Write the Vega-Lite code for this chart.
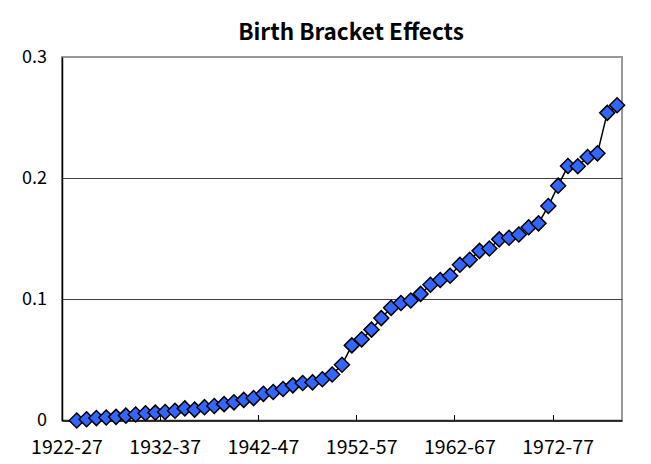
{
  "$schema": "https://vega.github.io/schema/vega-lite/v6.json",
  "width": 560,
  "height": 363.5,
  "autosize": {"type": "none"},
  "padding": {"left": 62, "top": 57, "right": 29, "bottom": 43.5},
  "background": "white",
  "title": {
    "text": "Birth Bracket Effects",
    "font": "Noto Sans CJK JP",
    "fontSize": 22.5,
    "fontWeight": "bold",
    "color": "black",
    "anchor": "middle",
    "frame": "group",
    "dx": 9,
    "offset": 4
  },
  "config": {
    "view": {"stroke": "#999999", "strokeWidth": 2},
    "axis": {"labelFont": "Noto Sans CJK JP", "labelFontSize": 18, "labelColor": "black"}
  },
  "data": {
    "values": [
      {"bracket": "1923-28", "effect": 0.000},
      {"bracket": "1924-29", "effect": 0.001},
      {"bracket": "1925-30", "effect": 0.002},
      {"bracket": "1926-31", "effect": 0.0025},
      {"bracket": "1927-32", "effect": 0.003},
      {"bracket": "1928-33", "effect": 0.004},
      {"bracket": "1929-34", "effect": 0.005},
      {"bracket": "1930-35", "effect": 0.006},
      {"bracket": "1931-36", "effect": 0.0065},
      {"bracket": "1932-37", "effect": 0.007},
      {"bracket": "1933-38", "effect": 0.008},
      {"bracket": "1934-39", "effect": 0.010},
      {"bracket": "1935-40", "effect": 0.009},
      {"bracket": "1936-41", "effect": 0.011},
      {"bracket": "1937-42", "effect": 0.012},
      {"bracket": "1938-43", "effect": 0.0135},
      {"bracket": "1939-44", "effect": 0.015},
      {"bracket": "1940-45", "effect": 0.017},
      {"bracket": "1941-46", "effect": 0.0185},
      {"bracket": "1942-47", "effect": 0.022},
      {"bracket": "1943-48", "effect": 0.0235},
      {"bracket": "1944-49", "effect": 0.026},
      {"bracket": "1945-50", "effect": 0.029},
      {"bracket": "1946-51", "effect": 0.031},
      {"bracket": "1947-52", "effect": 0.0315},
      {"bracket": "1948-53", "effect": 0.034},
      {"bracket": "1949-54", "effect": 0.038},
      {"bracket": "1950-55", "effect": 0.046},
      {"bracket": "1951-56", "effect": 0.062},
      {"bracket": "1952-57", "effect": 0.067},
      {"bracket": "1953-58", "effect": 0.075},
      {"bracket": "1954-59", "effect": 0.0845},
      {"bracket": "1955-60", "effect": 0.093},
      {"bracket": "1956-61", "effect": 0.097},
      {"bracket": "1957-62", "effect": 0.099},
      {"bracket": "1958-63", "effect": 0.1045},
      {"bracket": "1959-64", "effect": 0.112},
      {"bracket": "1960-65", "effect": 0.116},
      {"bracket": "1961-66", "effect": 0.1195},
      {"bracket": "1962-67", "effect": 0.1285},
      {"bracket": "1963-68", "effect": 0.1326},
      {"bracket": "1964-69", "effect": 0.140},
      {"bracket": "1965-70", "effect": 0.142},
      {"bracket": "1966-71", "effect": 0.1495},
      {"bracket": "1967-72", "effect": 0.1508},
      {"bracket": "1968-73", "effect": 0.1535},
      {"bracket": "1969-74", "effect": 0.1595},
      {"bracket": "1970-75", "effect": 0.1627},
      {"bracket": "1971-76", "effect": 0.177},
      {"bracket": "1972-77", "effect": 0.1938},
      {"bracket": "1973-78", "effect": 0.210},
      {"bracket": "1974-79", "effect": 0.2098},
      {"bracket": "1975-80", "effect": 0.2175},
      {"bracket": "1976-81", "effect": 0.2205},
      {"bracket": "1977-82", "effect": 0.2539},
      {"bracket": "1978-83", "effect": 0.2602}
    ]
  },
  "encoding": {
    "x": {
      "field": "bracket",
      "type": "ordinal",
      "sort": null,
      "scale": {
        "type": "band",
        "paddingInner": 0,
        "paddingOuter": 0,
        "domain": ["1922-27","1923-28","1924-29","1925-30","1926-31","1927-32","1928-33","1929-34","1930-35","1931-36","1932-37","1933-38","1934-39","1935-40","1936-41","1937-42","1938-43","1939-44","1940-45","1941-46","1942-47","1943-48","1944-49","1945-50","1946-51","1947-52","1948-53","1949-54","1950-55","1951-56","1952-57","1953-58","1954-59","1955-60","1956-61","1957-62","1958-63","1959-64","1960-65","1961-66","1962-67","1963-68","1964-69","1965-70","1966-71","1967-72","1968-73","1969-74","1970-75","1971-76","1972-77","1973-78","1974-79","1975-80","1976-81","1977-82","1978-83"]
      },
      "axis": {
        "title": null,
        "values": ["1922-27","1932-37","1942-47","1952-57","1962-67","1972-77"],
        "bandPosition": 0,
        "labelAngle": 0,
        "labelDx": 3.5,
        "labelAlign": "center",
        "labelBaseline": "top",
        "labelFontSize": 19.5,
        "ticks": true,
        "tickSize": -6,
        "tickColor": "black",
        "tickWidth": 1,
        "labelPadding": 24,
        "domainColor": "black",
        "domainWidth": 1.5,
        "grid": false
      }
    },
    "y": {
      "field": "effect",
      "type": "quantitative",
      "scale": {"domain": [0, 0.3], "nice": false, "zero": true},
      "axis": {
        "title": null,
        "values": [0, 0.1, 0.2, 0.3],
        "format": ".1~f",
        "ticks": false,
        "labelPadding": 15.5,
        "domainColor": "black",
        "domainWidth": 1.5,
        "grid": true,
        "gridColor": {"condition": {"test": "datum.value >= 0.29 || datum.value <= 0.001", "value": "transparent"}, "value": "#404040"},
        "gridWidth": 1
      }
    }
  },
  "layer": [
    {"mark": {"type": "line", "color": "black", "strokeWidth": 1.5}},
    {"mark": {"type": "point", "shape": "diamond", "filled": true, "fill": "#3366FF", "stroke": "black", "strokeWidth": 1.5, "size": 225, "opacity": 1}}
  ]
}
